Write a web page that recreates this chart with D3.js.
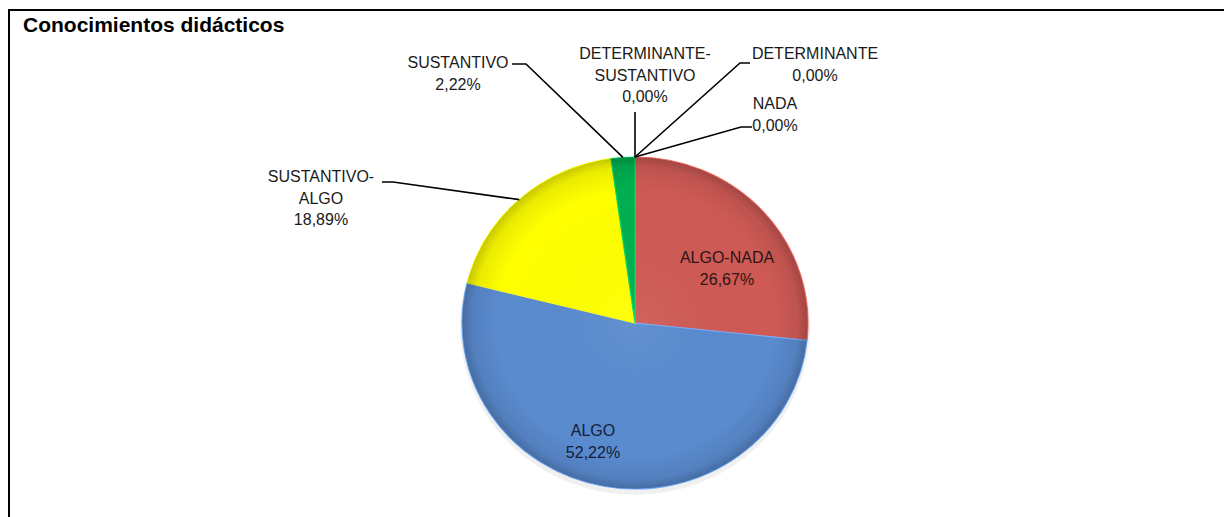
<!DOCTYPE html>
<html><head><meta charset="utf-8">
<script src="https://cdn.jsdelivr.net/npm/d3@7"></script>
<style>
html,body{margin:0;padding:0;background:#fff;}
svg{display:block;}
text{font-family:"Liberation Sans",Arial,sans-serif;}
</style></head>
<body>
<svg id="c" width="1224" height="517"></svg>
<script>
// ---- data ----
const categories = ["NADA","DETERMINANTE","ALGO-NADA","ALGO","SUSTANTIVO-ALGO","SUSTANTIVO","DETERMINANTE-SUSTANTIVO"];
const values = [0.00, 0.00, 26.67, 52.22, 18.89, 2.22, 0.00];
const labelLines = [["NADA","0,00%"],["DETERMINANTE","0,00%"],["ALGO-NADA","26,67%"],["ALGO","52,22%"],["SUSTANTIVO-","ALGO","18,89%"],["SUSTANTIVO","2,22%"],["DETERMINANTE-","SUSTANTIVO","0,00%"]];
const colors = ["#8064A2","#4BACC6","#CF5A55","#5A8BCF","#FFFF00","#00B050","#F79646"];
const title = "Conocimientos didácticos";

// ---- layout ----
const svg = d3.select("#c");
const cx = 635, cy = 323, rx = 173, ry = 166;

svg.append("line").attr("x1",8).attr("x2",1224).attr("y1",10).attr("y2",10).attr("stroke","#000").attr("stroke-width",2);
svg.append("line").attr("x1",9).attr("x2",9).attr("y1",9).attr("y2",517).attr("stroke","#000").attr("stroke-width",2);

svg.append("text").attr("x",23).attr("y",32).attr("font-size",21).attr("font-weight","bold").attr("fill","#000").text(title);

const defs = svg.append("defs");
const rg = defs.append("radialGradient").attr("id","rim").attr("cx","50%").attr("cy","50%").attr("r","50%");
rg.append("stop").attr("offset","0%").attr("stop-color","#fff").attr("stop-opacity",0.05);
rg.append("stop").attr("offset","80%").attr("stop-color","#000").attr("stop-opacity",0);
rg.append("stop").attr("offset","94%").attr("stop-color","#000").attr("stop-opacity",0.08);
rg.append("stop").attr("offset","100%").attr("stop-color","#000").attr("stop-opacity",0.22);

const pie = d3.pie().sort(null).value(d => d).startAngle(0).endAngle(2*Math.PI);
const arcs = pie(values);
const arc = d3.arc().innerRadius(0).outerRadius(rx);

const g = svg.append("g").attr("transform",`translate(${cx},${cy}) scale(1,${ry/rx})`);
g.append("circle").attr("r",rx+2).attr("cy",4).attr("fill","#000").attr("opacity",0.06);
g.selectAll("path.s").data(arcs.filter(a=>a.value>0)).join("path").attr("class","s")
  .attr("d",arc).attr("fill",(d)=>colors[d.index])
  .attr("stroke",d=>d3.color(colors[d.index]).brighter(0.6)).attr("stroke-width",1.2);
g.append("circle").attr("r",rx).attr("fill","url(#rim)").attr("pointer-events","none");

function edge(a){ const m=(a.startAngle+a.endAngle)/2; return [cx+rx*Math.sin(m), cy-ry*Math.cos(m)]; }

const placement = {
  "SUSTANTIVO": {x:458, y:68, start:[512,64], elbow:[526,64]},
  "DETERMINANTE-SUSTANTIVO": {x:645, y:59, start:[635,112], elbow:[635,112]},
  "DETERMINANTE": {x:815, y:59, start:[750,63], elbow:[740,63]},
  "NADA": {x:775, y:109, start:[752,127], elbow:[741,127]},
  "SUSTANTIVO-ALGO": {x:321, y:182, start:[382,182], elbow:[393,182]},
  "ALGO-NADA": {x:727, y:263, fill:"#2e1414"},
  "ALGO": {x:593, y:436, fill:"#142038"}
};
const lh = 21.5;
arcs.forEach((a,i)=>{
  const p = placement[categories[i]];
  if(p.start){
    const e = edge(a);
    svg.append("polyline").attr("points",[p.start,p.elbow,e].map(q=>q.join(",")).join(" "))
      .attr("fill","none").attr("stroke","#000").attr("stroke-width",1.6);
  }
  const t = svg.append("text").attr("x",p.x).attr("y",p.y).attr("text-anchor","middle")
    .attr("font-size",16).attr("fill", p.fill || "#1a1a1a");
  labelLines[i].forEach((s,k)=>t.append("tspan").attr("x",p.x).attr("y",p.y+k*lh).text(s));
});
</script>
</body></html>
